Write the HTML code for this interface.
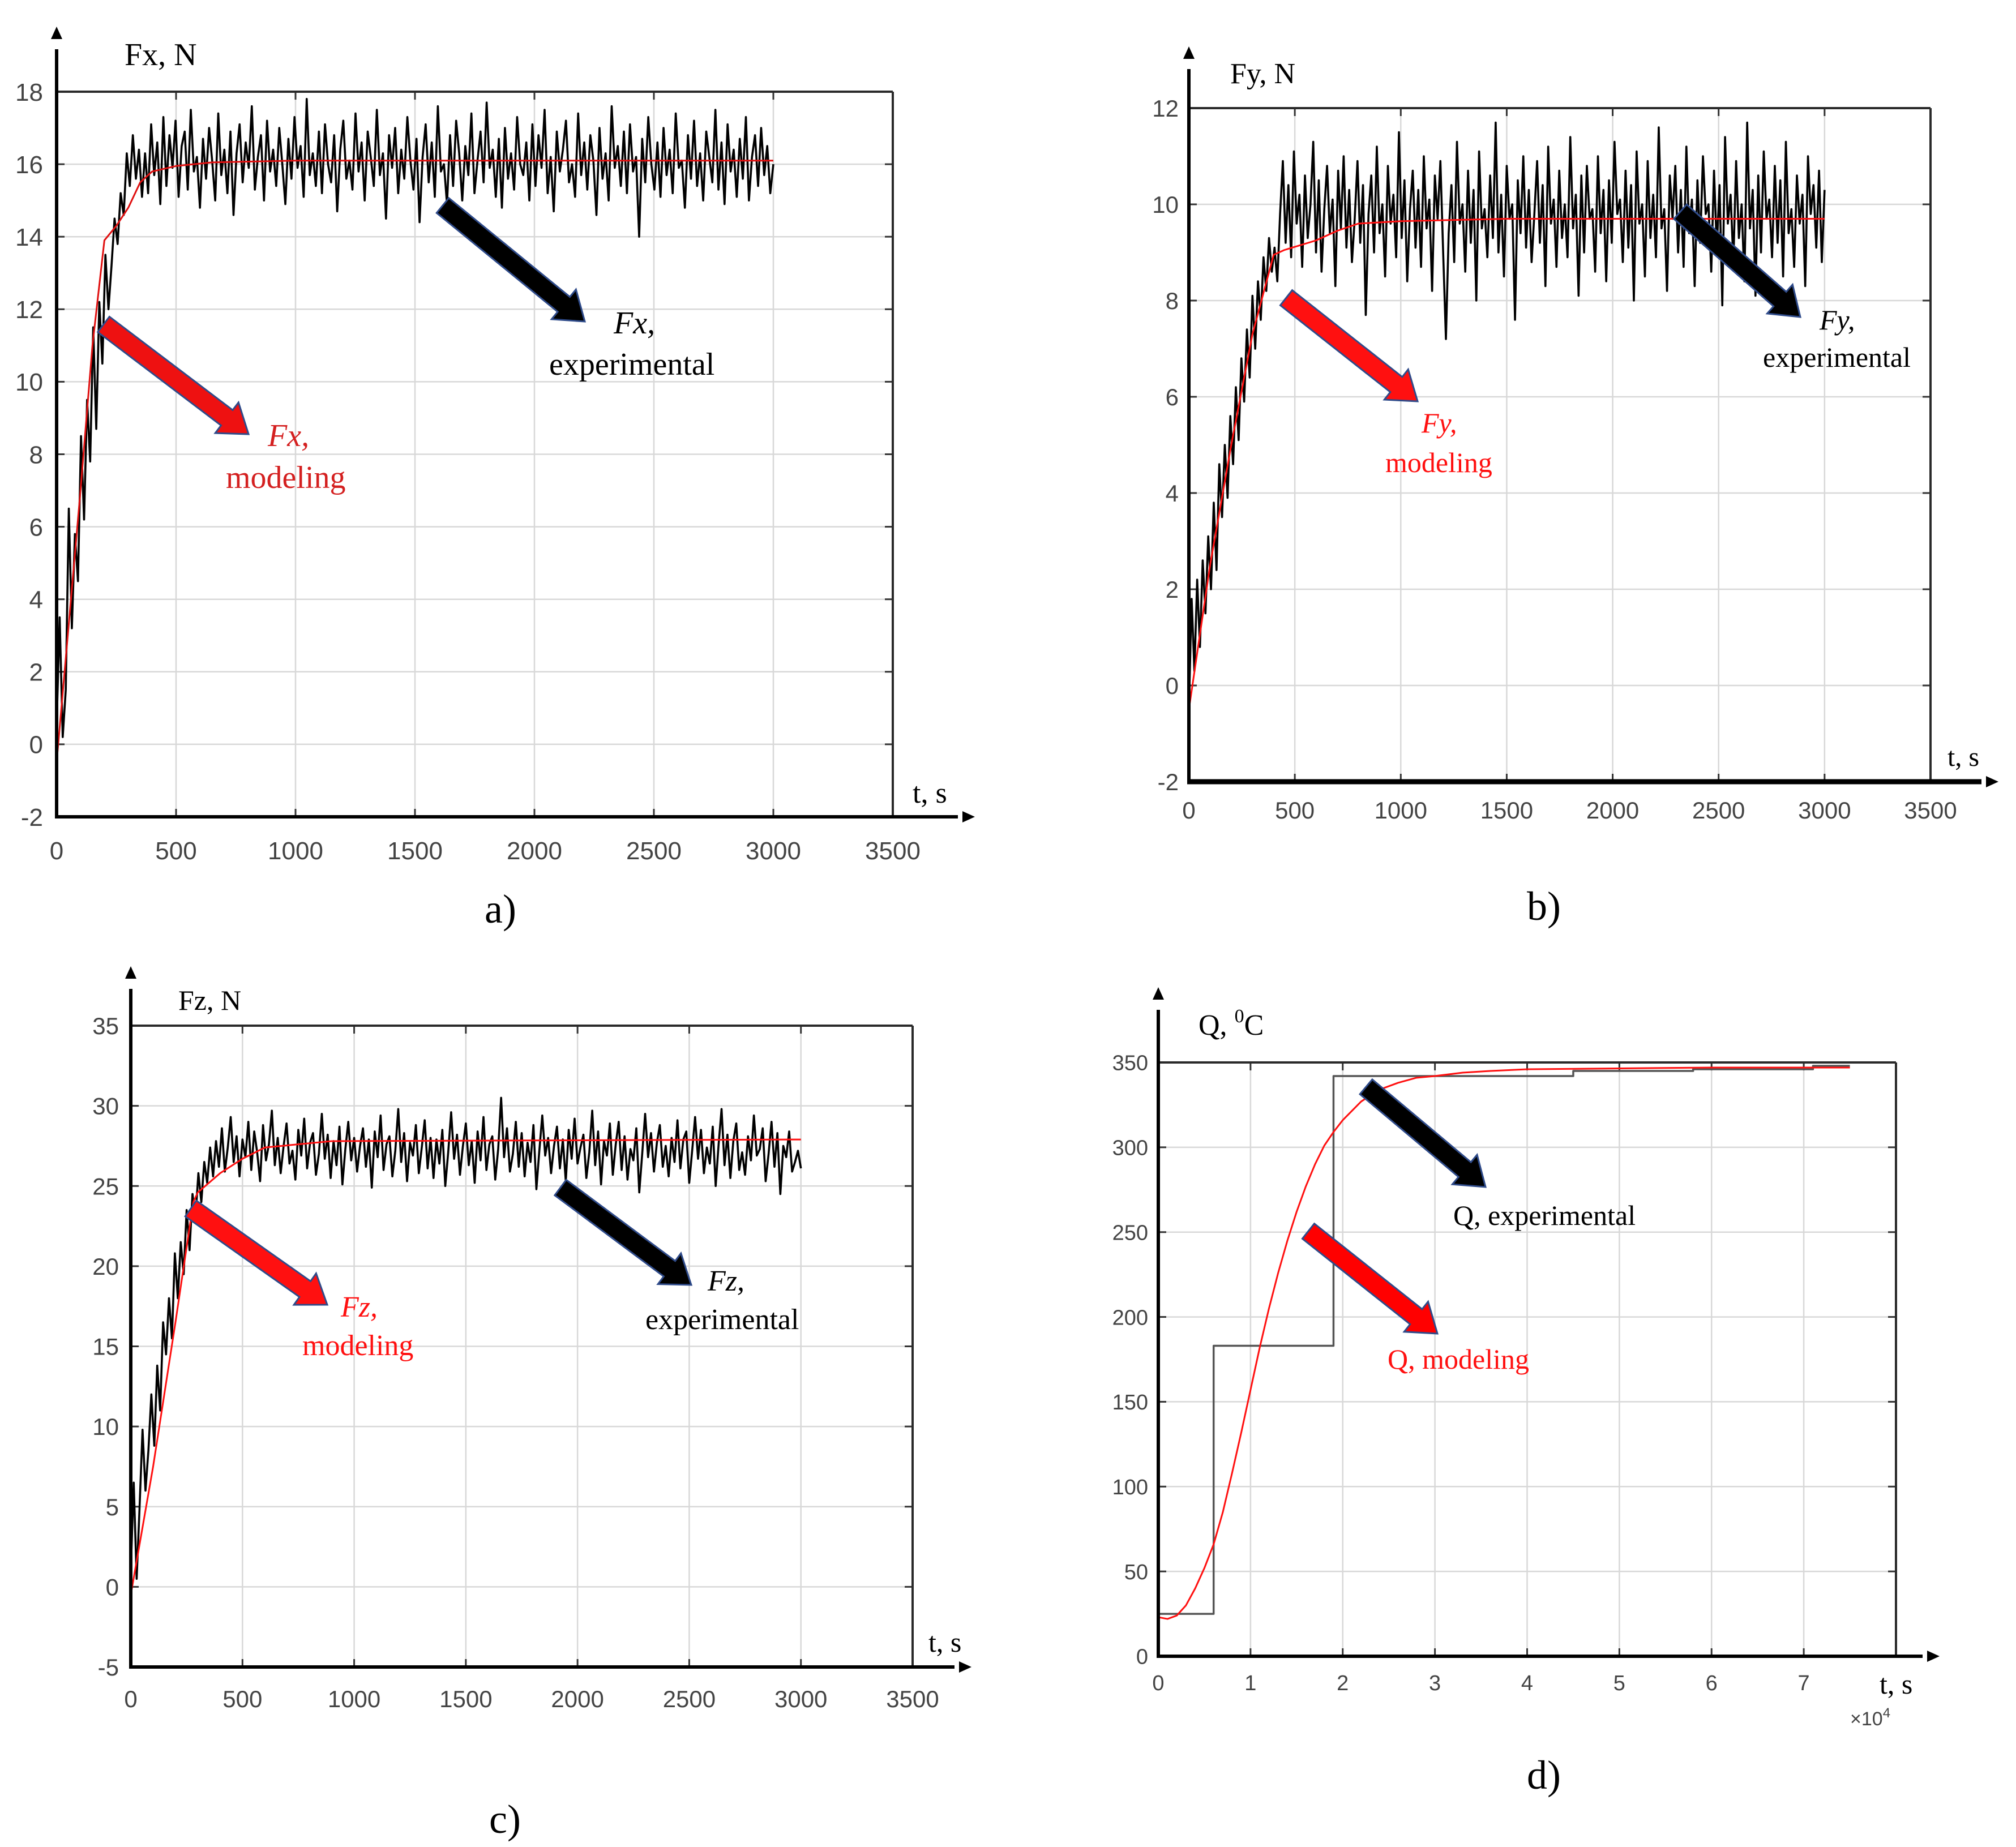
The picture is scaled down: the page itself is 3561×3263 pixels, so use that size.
<!DOCTYPE html>
<html><head><meta charset="utf-8"><style>
html,body{margin:0;padding:0;background:#fff}
svg{display:block}
.tick{font-family:"Liberation Sans",sans-serif;fill:#444}
.ser{font-family:"Liberation Serif",serif}
</style></head><body>
<svg id="fig" xmlns="http://www.w3.org/2000/svg" width="3561" height="3263" viewBox="0 0 3561 3263">
<rect width="3561" height="3263" fill="#fff"/>
</svg>
<script>
// ---------- data ----------
const xTicksForce = [0,500,1000,1500,2000,2500,3000,3500];
const aYTicks = [-2,0,2,4,6,8,10,12,14,16,18];
const bYTicks = [-2,0,2,4,6,8,10,12];
const cYTicks = [-5,0,5,10,15,20,25,30,35];
const dYTicks = [0,50,100,150,200,250,300,350];
const dXTicks = [0,1,2,3,4,5,6,7];
const dXGrid = [0,1,2,3,4,5,6,7,8];

const fxExp = [0.5,3.5,0.2,1.5,6.5,3.2,5.8,4.5,8.5,6.2,9.5,7.8,11.5,8.7,12.2,10.5,13.5,12,13.2,14.5,13.8,15.2,14.6,16.3,15.4,16.8,15.6,16.4,15.1,
16.3,15.2,17.1,15.7,16.6,14.9,17.3,15.4,16.8,15.9,17.2,15.1,16.5,16.9,15.3,17.5,15.8,16.2,14.8,16.7,15.6,17.0,16.1,15.0,17.4,15.7,16.4,15.2,16.9,14.6,16.3,17.1,15.5,16.6,15.9,17.6,15.3,16.2,16.8,15.0,17.2,15.8,16.4,15.4,17.0,16.0,14.9,16.7,15.6,17.3,15.9,16.5,15.1,17.8,15.7,16.3,15.4,16.9,15.2,17.1,16.0,15.5,16.8,14.7,16.4,17.2,15.6,16.1,15.3,17.4,15.8,16.6,15.0,16.9,16.2,15.4,17.5,15.7,16.3,14.5,16.8,15.9,17.0,15.2,16.4,15.6,17.3,16.1,15.3,16.7,14.4,16.2,17.1,15.5,16.6,15.1,17.6,15.8,16.0,14.9,16.8,15.4,17.2,16.3,15.0,16.5,15.7,17.4,15.2,16.1,16.9,15.5,17.7,15.9,16.4,15.1,16.7,14.8,17.0,15.6,16.3,15.3,17.3,16.0,15.7,16.6,15.0,17.1,15.4,16.8,15.9,17.5,15.2,16.2,14.7,16.9,15.8,16.4,17.2,15.5,16.0,15.1,17.4,15.7,16.6,15.3,16.8,16.1,14.6,17.0,15.6,16.3,15.0,17.6,15.9,16.5,15.4,16.9,15.2,17.1,15.8,16.2,14.0,16.7,15.5,17.3,16.0,15.3,16.6,15.1,17.0,15.7,16.4,15.2,17.4,15.9,16.1,14.8,16.8,15.6,17.2,15.4,16.3,15.0,16.9,16.2,15.5,17.5,15.3,16.6,14.9,17.1,15.8,16.4,15.1,16.7,15.6,17.3,15.0,16.2,16.8,15.4,17.0,15.7,16.5,15.2,16.0];
const fxModT = [0,100,150,200,250,300,350,400,500,650,1000,3000];
const fxModV = [-0.5,7,11,13.9,14.3,14.8,15.5,15.8,15.95,16.05,16.1,16.1];

const fyExp = [-0.5,1.8,0.3,2.2,0.8,2.6,1.5,3.1,2.0,3.8,2.4,4.6,3.5,5.0,3.9,5.6,4.6,6.2,5.1,6.8,5.9,7.4,6.4,8.1,7.0,8.4,7.6,8.9,8.2,9.3,8.6,9.1,8.4,
9.8,10.9,9.2,10.4,8.9,11.1,9.6,10.2,8.7,10.6,9.3,10.0,11.3,9.0,10.5,8.6,9.9,10.8,9.4,10.1,8.3,10.7,9.5,11.0,9.1,10.3,8.8,9.7,10.9,9.2,10.4,7.7,9.8,10.6,9.0,11.2,9.4,10.0,8.5,10.8,9.6,10.2,8.9,11.5,9.3,10.5,8.4,9.9,10.7,9.1,10.3,8.7,11.0,9.5,10.1,8.2,10.6,9.7,10.9,9.0,7.2,9.4,10.4,8.8,11.3,9.6,10.0,8.6,10.7,9.2,10.3,8.0,11.1,9.5,9.9,8.9,10.6,9.3,11.7,9.0,10.2,8.5,10.8,9.7,10.0,7.6,10.5,9.4,11.0,9.1,10.3,8.8,9.8,10.9,9.2,10.4,8.3,11.2,9.6,10.1,8.7,10.7,9.3,10.0,8.9,11.4,9.5,10.2,8.1,10.6,9.0,10.8,9.7,9.9,8.6,11.0,9.4,10.3,8.4,10.5,9.2,11.3,9.8,10.1,8.8,10.7,9.1,10.4,8.0,11.1,9.6,10.0,8.5,10.9,9.3,10.2,8.9,11.6,9.5,9.9,8.2,10.6,9.7,10.8,9.0,10.3,8.7,11.2,9.4,10.1,8.3,10.5,9.2,11.0,9.8,10.0,8.6,10.7,9.1,10.4,7.9,11.4,9.6,10.2,8.8,10.9,9.3,10.0,8.4,11.7,9.5,10.3,8.1,10.6,9.0,11.1,9.7,10.1,8.9,10.8,9.2,10.5,8.5,11.3,9.4,9.9,8.7,10.6,9.6,10.2,8.3,11.0,9.8,10.4,9.1,10.7,8.8,10.3];
const fyModT = [0,100,200,300,400,450,600,700,800,1000,1500,3000];
const fyModV = [-0.5,2.5,5,7.3,8.95,9.05,9.25,9.45,9.6,9.65,9.7,9.7];

const fzExp = [1.0,6.5,0.5,5.0,9.8,6.0,8.5,12.0,8.8,13.8,11.0,16.5,14.5,18.0,15.5,20.8,18.0,21.5,19.5,23.5,21.0,24.5,23.0,25.8,24.0,26.5,25.2,27.4,25.6,
27.8,26.2,28.6,25.9,27.4,29.3,26.5,28.1,25.6,27.9,26.8,29.0,26.0,28.4,27.1,25.3,28.8,26.6,27.6,29.7,26.3,28.0,25.8,27.5,28.9,26.4,27.2,25.4,28.5,26.9,29.2,26.1,27.7,28.3,25.7,27.0,29.5,26.7,28.2,25.5,27.8,26.3,28.7,25.1,27.3,29.0,26.6,28.0,25.9,27.5,28.6,26.2,27.9,24.9,28.4,26.8,29.4,26.0,27.6,28.1,25.6,27.2,29.8,26.5,28.3,25.3,27.7,26.9,28.8,25.8,27.4,29.1,26.1,28.0,25.5,27.9,26.4,28.5,25.0,27.1,29.6,26.7,28.2,25.7,27.5,28.9,26.3,27.8,25.2,28.4,26.6,29.3,26.0,27.6,28.1,25.4,27.3,30.5,26.8,28.6,25.9,27.0,29.0,26.2,28.3,25.6,27.7,26.5,28.8,24.8,27.2,29.4,26.9,28.0,25.8,27.5,28.7,26.1,27.9,25.3,28.5,26.7,29.2,26.4,27.4,28.2,25.5,27.1,29.7,26.3,28.4,25.1,27.8,26.9,28.9,25.7,27.6,29.0,26.0,28.1,25.4,27.3,26.6,28.6,24.6,27.0,29.5,26.8,28.3,25.9,27.7,28.8,26.2,27.5,25.6,28.0,26.5,29.1,26.1,27.9,28.4,25.2,27.2,29.3,26.7,28.5,25.8,27.4,26.4,28.7,25.0,27.6,29.8,26.3,28.2,25.5,27.8,28.9,26.0,27.1,25.7,28.1,26.6,29.4,26.9,27.3,28.6,25.3,27.0,29.0,26.2,28.3,24.5,27.5,26.8,28.4,25.9,26.5,27.2,26.1];
const fzModT = [0,100,200,280,300,400,500,600,900,3000];
const fzModV = [-0.5,7.5,16.5,24,24.6,25.8,26.7,27.4,27.8,27.9];

const qExpT = [0,0.6,1.9,4.5,5.8,7.1,7.5];
const qExpV = [25,183,342,345,346,348];
const qModT = [0,0.1,0.2,0.3,0.4,0.5,0.6,0.7,0.8,0.9,1.0,1.1,1.2,1.3,1.4,1.5,1.6,1.7,1.8,1.9,2.0,2.2,2.4,2.6,2.8,3.0,3.3,3.6,4.0,5.0,6.0,7.5];
const qModV = [23,22,24,30,40,52,66,85,108,132,157,182,205,226,245,262,277,290,301,309,316,327,334,338,341,342,344,345,346,346.5,347,347];

// ---------- drawing ----------
const NS='http://www.w3.org/2000/svg';
const svg=document.getElementById('fig');
function mk(tag,attrs,parent){const e=document.createElementNS(NS,tag);for(const k in attrs)e.setAttribute(k,attrs[k]);(parent||svg).appendChild(e);return e;}
function txt(parent,x,y,s,cls,size,fill,anchor,extra){const t=mk('text',Object.assign({x:x,y:y,class:cls,'font-size':size,fill:fill,'text-anchor':anchor||'start'},extra||{}),parent);t.textContent=s;return t;}

function panel(p){
  const g=mk('g',{});
  
  
  const sx=v=>p.x0+(v-p.xmin)/(p.xmax-p.xmin)*(p.x1-p.x0);
  const sy=v=>p.y0-(v-p.ymin)/(p.ymax-p.ymin)*(p.y0-p.y1);
  const grid=mk('g',{},g);
  
  
  p.xgrid.forEach(v=>{const x=sx(v);mk('line',{x1:x,x2:x,y1:p.y0,y2:p.y1,stroke:'#d8d8d8','stroke-width':2.5},grid);
    mk('line',{x1:x,x2:x,y1:p.y1,y2:p.y1+14,stroke:'#333','stroke-width':3},grid);mk('line',{x1:x,x2:x,y1:p.y0,y2:p.y0-14,stroke:'#333','stroke-width':3},grid);});
  p.yticks.forEach(v=>{const y=sy(v);mk('line',{x1:p.x0,x2:p.x1,y1:y,y2:y,stroke:'#d8d8d8','stroke-width':2.5},grid);
    mk('line',{x1:p.x0,x2:p.x0+14,y1:y,y2:y,stroke:'#333','stroke-width':3},grid);mk('line',{x1:p.x1,x2:p.x1-14,y1:y,y2:y,stroke:'#333','stroke-width':3},grid);});
  mk('line',{x1:p.x0,x2:p.x1,y1:p.y1,y2:p.y1,stroke:'#2a2a2a','stroke-width':4},g);
  mk('line',{x1:p.x1,x2:p.x1,y1:p.y1,y2:p.y0,stroke:'#2a2a2a','stroke-width':4},g);
  const xl=mk('g',{},g);
  
  
  p.xticks.forEach(v=>txt(xl,sx(v),p.xly,String(v),'tick',p.tf,'#444','middle'));
  const yl=mk('g',{},g);
  
  
  p.yticks.forEach(v=>txt(yl,p.ylx,sy(v)+p.tf*0.36,String(v),'tick',p.tf,'#444','end'));
  p.series.forEach(s=>{
    let pts;
    if(s.step){pts=[];for(let i=0;i<s.v.length;i++){pts.push(sx(s.t[i])+','+sy(s.v[i]));pts.push(sx(s.t[i+1])+','+sy(s.v[i]));}}
    else if(s.t){pts=s.v.map((v,i)=>sx(s.t[i])+','+sy(v));}
    else{const n=s.v.length;pts=s.v.map((v,i)=>sx(s.tEnd*i/(n-1))+','+sy(v));}
    const l=mk('polyline',{points:pts.join(' '),fill:'none',stroke:s.color,'stroke-width':s.w,'stroke-linejoin':'round'},g);
    
    
  });
  mk('line',{x1:p.x0,x2:p.x0,y1:p.y0+3,y2:p.ytip+40,stroke:'#000','stroke-width':6},g);
  mk('polygon',{points:`${p.x0},${p.ytip} ${p.x0-10},${p.ytip+22} ${p.x0+10},${p.ytip+22}`,fill:'#000'},g);
  mk('line',{x1:p.x0-3,x2:p.xtip-30,y1:p.y0,y2:p.y0,stroke:'#000','stroke-width':p.xw||6},g);
  mk('polygon',{points:`${p.xtip},${p.y0} ${p.xtip-22},${p.y0-10} ${p.xtip-22},${p.y0+10}`,fill:'#000'},g);
  return g;
}
function blockArrow(x1,y1,x2,y2,fill,name){
  const dx=x2-x1,dy=y2-y1,L=Math.hypot(dx,dy),ux=dx/L,uy=dy/L,nx=-uy,ny=ux;
  const w=17,hw=34,hl=48,bx=x2-ux*hl,by=y2-uy*hl;
  const P=[[x1+nx*w,y1+ny*w],[bx+nx*w,by+ny*w],[bx+nx*hw,by+ny*hw],[x2,y2],[bx-nx*hw,by-ny*hw],[bx-nx*w,by-ny*w],[x1-nx*w,y1-ny*w]];
  const a=mk('polygon',{points:P.map(q=>q.join(',')).join(' '),fill:fill,stroke:'#2f4b8a','stroke-width':3});
  
  
}

const gA=panel({name:'panel-a-fx',x0:100,x1:1577,y0:1443,y1:162,xmin:0,xmax:3500,ymin:-2,ymax:18,xgrid:xTicksForce,xticks:xTicksForce,yticks:aYTicks,xly:1518,ylx:76,tf:44,ytip:47,xtip:1722,
 series:[{name:'fx-experimental-line',v:fxExp,tEnd:3000,color:'#000',w:3.6},{name:'fx-modeling-line',t:fxModT,v:fxModV,color:'#e01010',w:3}]});
const gB=panel({name:'panel-b-fy',x0:2100,x1:3410,y0:1381,y1:191,xmin:0,xmax:3500,ymin:-2,ymax:12,xgrid:xTicksForce,xticks:xTicksForce,yticks:bYTicks,xly:1446,ylx:2082,tf:42,ytip:82,xtip:3530,xw:9,
 series:[{name:'fy-experimental-line',v:fyExp,tEnd:3000,color:'#000',w:3.6},{name:'fy-modeling-line',t:fyModT,v:fyModV,color:'#ff1010',w:3}]});
const gC=panel({name:'panel-c-fz',x0:231,x1:1612,y0:2945,y1:1812,xmin:0,xmax:3500,ymin:-5,ymax:35,xgrid:xTicksForce,xticks:xTicksForce,yticks:cYTicks,xly:3016,ylx:210,tf:42,ytip:1707,xtip:1716,
 series:[{name:'fz-experimental-line',v:fzExp,tEnd:3000,color:'#000',w:3.6},{name:'fz-modeling-line',t:fzModT,v:fzModV,color:'#ff1010',w:3}]});
const gD=panel({name:'panel-d-q',x0:2046,x1:3349,y0:2926,y1:1877,xmin:0,xmax:8,ymin:0,ymax:350,xgrid:dXGrid,xticks:dXTicks,yticks:dYTicks,xly:2986,ylx:2028,tf:38,ytip:1744,xtip:3426,
 series:[{name:'q-experimental-line',step:true,t:qExpT,v:qExpV,color:'#555',w:3.5},{name:'q-modeling-line',t:qModT,v:qModV,color:'#ff1010',w:3}]});

function label(parent,name,x,y,s,size,fill,italic,anchor){const t=txt(parent,x,y,s,'ser',size,fill,anchor||'start',italic?{'font-style':'italic'}:{});return t;}
label(gA,'y-axis-title',220,115,'Fx, N',56,'#000');
label(gA,'x-axis-title',1612,1418,'t, s',52,'#000');
label(gA,'panel-label',884,1630,'a)',72,'#000',false,'middle');
label(gB,'y-axis-title',2173,147,'Fy, N',52,'#000');
label(gB,'x-axis-title',3440,1353,'t, s',48,'#000');
label(gB,'panel-label',2727,1625,'b)',72,'#000',false,'middle');
label(gC,'y-axis-title',315,1784,'Fz, N',50,'#000');
label(gC,'x-axis-title',1640,2918,'t, s',50,'#000');
label(gC,'panel-label',892,3238,'c)',72,'#000',false,'middle');
const qt=label(gD,'y-axis-title',2117,1828,'Q, ',52,'#000');
const sup=mk('tspan',{'font-size':34,dy:-22},qt);sup.textContent='0';
const cc=mk('tspan',{dy:22},qt);cc.textContent='C';
label(gD,'x-axis-title',3320,2992,'t, s',50,'#000');
const ex=txt(gD,3268,3048,'×10','tick',34,'#444','start');
const e4=mk('tspan',{'font-size':24,dy:-14},ex);e4.textContent='4';
label(gD,'panel-label',2727,3160,'d)',72,'#000',false,'middle');

blockArrow(183,573,439,767,'#ee1111','fx-modeling-arrow');
blockArrow(782,363,1033,568,'#000','fx-experimental-arrow');
label(gA,'fx-modeling-label-1',473,788,'Fx,',56,'#d42020',true);
label(gA,'fx-modeling-label-2',399,862,'modeling',56,'#d42020');
label(gA,'fx-experimental-label-1',1084,589,'Fx,',56,'#000',true);
label(gA,'fx-experimental-label-2',970,662,'experimental',56,'#000');

blockArrow(2272,526,2504,709,'#ff1010','fy-modeling-arrow');
blockArrow(2968,374,3180,560,'#000','fy-experimental-arrow');
label(gB,'fy-modeling-label-1',2511,764,'Fy,',50,'#ff1010',true);
label(gB,'fy-modeling-label-2',2447,834,'modeling',50,'#ff1010');
label(gB,'fy-experimental-label-1',3214,582,'Fy,',50,'#000',true);
label(gB,'fy-experimental-label-2',3114,648,'experimental',50,'#000');

blockArrow(337,2135,578,2305,'#ff1010','fz-modeling-arrow');
blockArrow(990,2098,1221,2270,'#000','fz-experimental-arrow');
label(gC,'fz-modeling-label-1',602,2326,'Fz,',52,'#ff1010',true);
label(gC,'fz-modeling-label-2',534,2394,'modeling',52,'#ff1010');
label(gC,'fz-experimental-label-1',1250,2280,'Fz,',52,'#000',true);
label(gC,'fz-experimental-label-2',1140,2348,'experimental',52,'#000');

blockArrow(2413,1920,2624,2097,'#000','q-experimental-arrow');
blockArrow(2311,2175,2539,2356,'#ff0000','q-modeling-arrow');
label(gD,'q-experimental-label',2567,2164,'Q, experimental',50,'#000');
label(gD,'q-modeling-label',2451,2418,'Q, modeling',50,'#ff1010');
</script>
</body></html>
